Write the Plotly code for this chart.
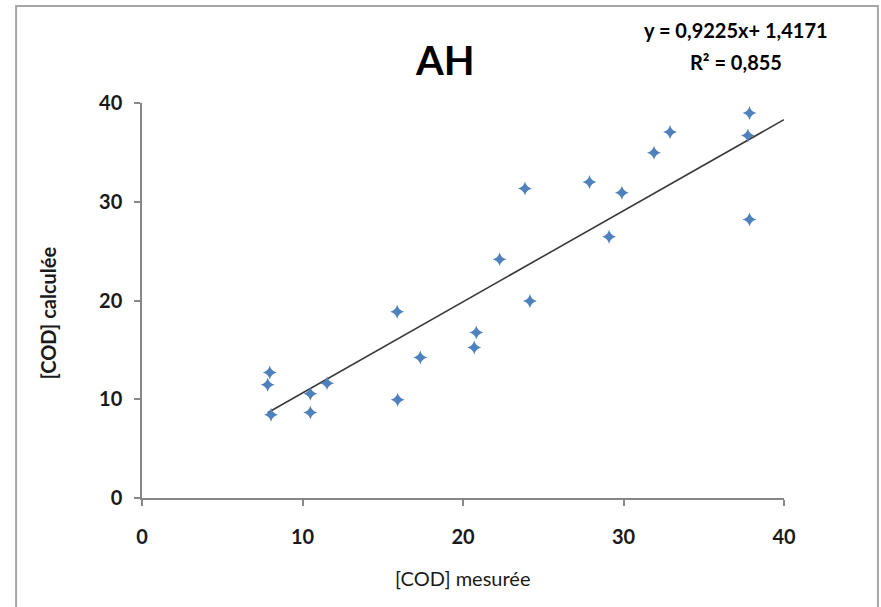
import plotly.graph_objects as go

# Data
cod_mesuree = [7.96, 7.83, 8.04, 10.49, 10.49, 11.53, 15.93, 15.9, 17.34, 20.7, 20.83,
               22.28, 24.17, 23.86, 27.88, 29.1, 29.9, 31.9, 32.9, 37.75, 37.85, 37.85]
cod_calculee = [12.7, 11.46, 8.42, 10.55, 8.66, 11.63, 9.94, 18.85, 14.22, 15.25, 16.75,
                24.17, 19.95, 31.34, 32.0, 26.45, 30.9, 34.95, 37.07, 36.7, 39.0, 28.2]
slope = 0.9225
intercept = 1.4171
r2_text = "0,855"
trend_end_x = 40
x_ticks = [0, 10, 20, 30, 40]
y_ticks = [0, 10, 20, 30, 40]

W, H = 881, 607
L, R, T, B = 141.5, 784, 102.7, 498.3
FONT = "Lato"

trend_x = [min(cod_mesuree), trend_end_x]
trend_y = [slope * v + intercept for v in trend_x]

fig = go.Figure()
fig.add_trace(go.Scatter(
    x=trend_x, y=trend_y, mode="lines",
    line=dict(color="#3a3a3a", width=1.6), hoverinfo="skip", showlegend=False))
fig.add_trace(go.Scatter(
    x=cod_mesuree, y=cod_calculee, mode="markers",
    marker=dict(symbol="star-diamond", size=10, color="#4F81BD",
                line=dict(width=0)),
    showlegend=False))

common = dict(showgrid=False, zeroline=False, showline=True, linecolor="#878787",
              linewidth=1.5, ticks="outside", ticklen=6, tickcolor="#878787",
              tickwidth=1.5, tickfont=dict(family=FONT, size=20,
                                            color="#1a1a1a", weight="bold"))

fig.update_layout(
    width=W, height=H,
    margin=dict(l=L, r=W - R, t=T, b=H - B, autoexpand=False),
    paper_bgcolor="white", plot_bgcolor="white",
    xaxis=dict(range=[0, 40], tickvals=x_ticks, ticktext=[str(v) for v in x_ticks],
               ticklabelstandoff=14, **common),
    yaxis=dict(range=[0, 40], tickvals=y_ticks, ticktext=[str(v) for v in y_ticks],
               ticklabelstandoff=8, **common),
)

pw, ph = R - L, B - T
def px(xp):
    return (xp - L) / pw
def py(yp):
    return (B - yp) / ph

# Outer chart border
fig.add_shape(type="rect", xref="paper", yref="paper",
              x0=px(15.5), x1=px(878), y0=py(640), y1=py(5.5),
              line=dict(color="#a6a6a6", width=2), layer="below")

fig.add_annotation(text="<b>AH</b>", xref="paper", yref="paper",
                   x=px(445), y=py(60), showarrow=False,
                   font=dict(family=FONT, size=40, color="#000"),
                   xanchor="center", yanchor="middle")
fig.add_annotation(text=f"<b>y = {str(slope).replace('.', ',')}x+ {str(intercept).replace('.', ',')}</b>",
                   xref="paper", yref="paper", x=px(736), y=py(30), showarrow=False,
                   font=dict(family=FONT, size=20, color="#000"),
                   xanchor="center", yanchor="middle")
fig.add_annotation(text=f"<b>R² = {r2_text}</b>",
                   xref="paper", yref="paper", x=px(736), y=py(62), showarrow=False,
                   font=dict(family=FONT, size=20, color="#000"),
                   xanchor="center", yanchor="middle")
# Axis titles
fig.add_annotation(text="[COD] mesurée", xref="paper", yref="paper",
                   x=px(462), y=py(578), showarrow=False,
                   font=dict(family=FONT, size=20, color="#1a1a1a"),
                   xanchor="center", yanchor="middle")
fig.add_annotation(text="[COD] calculée", xref="paper", yref="paper",
                   x=px(47), y=py(313), showarrow=False, textangle=-90,
                   font=dict(family=FONT, size=20, color="#1a1a1a", weight="bold"),
                   xanchor="center", yanchor="middle")

fig.write_html("out.html")
